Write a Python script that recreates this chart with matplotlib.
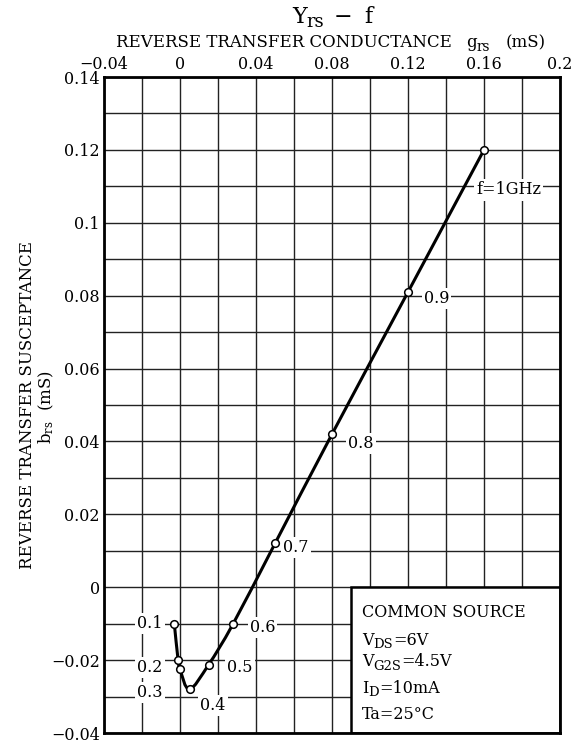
import numpy as np
import matplotlib
matplotlib.use("Agg")
import matplotlib.pyplot as plt
from matplotlib.path import Path
from matplotlib.patches import PathPatch, Rectangle
from matplotlib.transforms import IdentityTransform

plt.rcParams['font.family'] = ['DejaVu Serif']
plt.rcParams['mathtext.fontset'] = 'dejavuserif'

# ---- data ----
freq_labels = ["0.1", "0.2", "0.3", "0.4", "0.5", "0.6", "0.7", "0.8", "0.9", "f=1GHz"]
g_rs = [-0.003, -0.001, 0.000, 0.005, 0.015, 0.028, 0.050, 0.080, 0.120, 0.160]
b_rs = [-0.010, -0.020, -0.0225, -0.028, -0.0213, -0.010, 0.012, 0.042, 0.081, 0.120]
label_x = [-0.0158, -0.0158, -0.0158, 0.0174, 0.0316, 0.0434, 0.061, 0.0953, 0.135, 0.173]
label_y = [-0.0099, -0.022, -0.029, -0.0324, -0.022, -0.011, 0.011, 0.0395, 0.0793, 0.109]

x_ticks = [-0.04, 0, 0.04, 0.08, 0.12, 0.16, 0.2]
x_ticklabels = ["\u22120.04", "0", "0.04", "0.08", "0.12", "0.16", "0.2"]
y_ticks = [0.14, 0.12, 0.1, 0.08, 0.06, 0.04, 0.02, 0, -0.02, -0.04]
y_ticklabels = ["0.14", "0.12", "0.1", "0.08", "0.06", "0.04", "0.02", "0", "\u22120.02", "\u22120.04"]

# text pieces: (text, is_subscript)
conditions = [
    [("COMMON SOURCE", False)],
    [("V", False), ("DS", True), ("=6V", False)],
    [("V", False), ("G2S", True), ("=4.5V", False)],
    [("I", False), ("D", True), ("=10mA", False)],
    [("Ta=25\u00b0C", False)],
]
title_parts = [("Y", False), ("rs", True), (None, 9), ("\u2212", False), (None, 12), ("f", False)]
xlabel_parts = [("REVERSE TRANSFER CONDUCTANCE", False), (None, 14), ("g", False),
                ("rs", True), (None, 16), ("(mS)", False)]

W, H = 572, 750
fig = plt.figure(figsize=(W / 100, H / 100), dpi=100)
renderer = fig.canvas.get_renderer()


def rich(parts, x_px, base_px, fs, ha='left', sub_scale=0.82, sub_drop=3.5):
    """Place text pieces with big subscripts; coordinates in pixels from top-left."""
    arts = []
    total = 0.0
    for s, k in parts:
        if s is None:
            arts.append((None, False, k))
            total += k
            continue
        size = fs * sub_scale if k else fs
        t = fig.text(0, 0, s, fontsize=size, transform=IdentityTransform(),
                     va='baseline', ha='left')
        w = t.get_window_extent(renderer).width
        arts.append((t, k, w))
        total += w
    x0 = x_px - total / 2 if ha == 'center' else x_px
    yb = H - base_px
    for t, k, w in arts:
        if t is not None:
            t.set_position((x0, yb - (sub_drop if k else 0)))
        x0 += w


ax = fig.add_axes([104 / W, 1 - 733 / H, 456 / W, 656 / H])
ax.set_xlim(-0.04, 0.2)
ax.set_ylim(-0.04, 0.14)

ax.xaxis.tick_top()
ax.set_xticks(x_ticks)
ax.set_xticklabels(x_ticklabels, fontsize=11.5)
ax.set_xticks(np.arange(-0.04, 0.2001, 0.02), minor=True)
ax.set_yticks(y_ticks)
ax.set_yticklabels(y_ticklabels, fontsize=11.5)
ax.set_yticks(np.arange(-0.04, 0.1401, 0.01), minor=True)
ax.tick_params(which='both', length=0, pad=3)
ax.set_axisbelow(True)
ax.grid(which='both', color='#222222', linewidth=1.0)
for s in ax.spines.values():
    s.set_linewidth(2.0)
    s.set_color('black')

# conditions box
ax.add_patch(Rectangle((0.09, -0.04), 0.11, 0.04, facecolor='white',
                       edgecolor='black', linewidth=1.8, zorder=1.5))
baselines = [617, 645, 666, 693, 719]
for parts, yb in zip(conditions, baselines):
    rich(parts, 362, yb, 11.5)

# smooth curve (Catmull-Rom -> cubic Bezier) through the measured points
P = np.column_stack([g_rs, b_rs])
verts = [tuple(P[0])]
codes = [Path.MOVETO]
n = len(P)
for i in range(n - 1):
    p0 = P[i - 1] if i > 0 else P[i]
    p1, p2 = P[i], P[i + 1]
    p3 = P[i + 2] if i + 2 < n else P[i + 1]
    c1 = p1 + (p2 - p0) / 6.0
    c2 = p2 - (p3 - p1) / 6.0
    verts += [tuple(c1), tuple(c2), tuple(p2)]
    codes += [Path.CURVE4] * 3
ax.add_patch(PathPatch(Path(verts, codes), facecolor='none', edgecolor='black',
                       linewidth=2.2, zorder=3))
ax.plot(g_rs, b_rs, linestyle='none', marker='o', markersize=5.5,
        markerfacecolor='white', markeredgecolor='black', markeredgewidth=1.1, zorder=4)

for lab, lx, ly in zip(freq_labels, label_x, label_y):
    ax.text(lx, ly, lab, fontsize=11.5, ha='center', va='center', zorder=2.5,
            bbox=dict(facecolor='white', edgecolor='none', pad=1.5))

# titles
rich(title_parts, 332, 23, 16, ha='center', sub_scale=0.8, sub_drop=4)
rich(xlabel_parts, 331, 47, 12, ha='center', sub_scale=0.82, sub_drop=4)
fig.text(28 / W, 1 - 405 / H, "REVERSE TRANSFER SUSCEPTANCE", fontsize=12,
         rotation=90, ha='center', va='center')
fig.text(46 / W, 1 - 407 / H, r"b$_{\mathregular{rs}}$  (mS)", fontsize=12,
         rotation=90, ha='center', va='center')

fig.savefig("out.png", dpi=100)
